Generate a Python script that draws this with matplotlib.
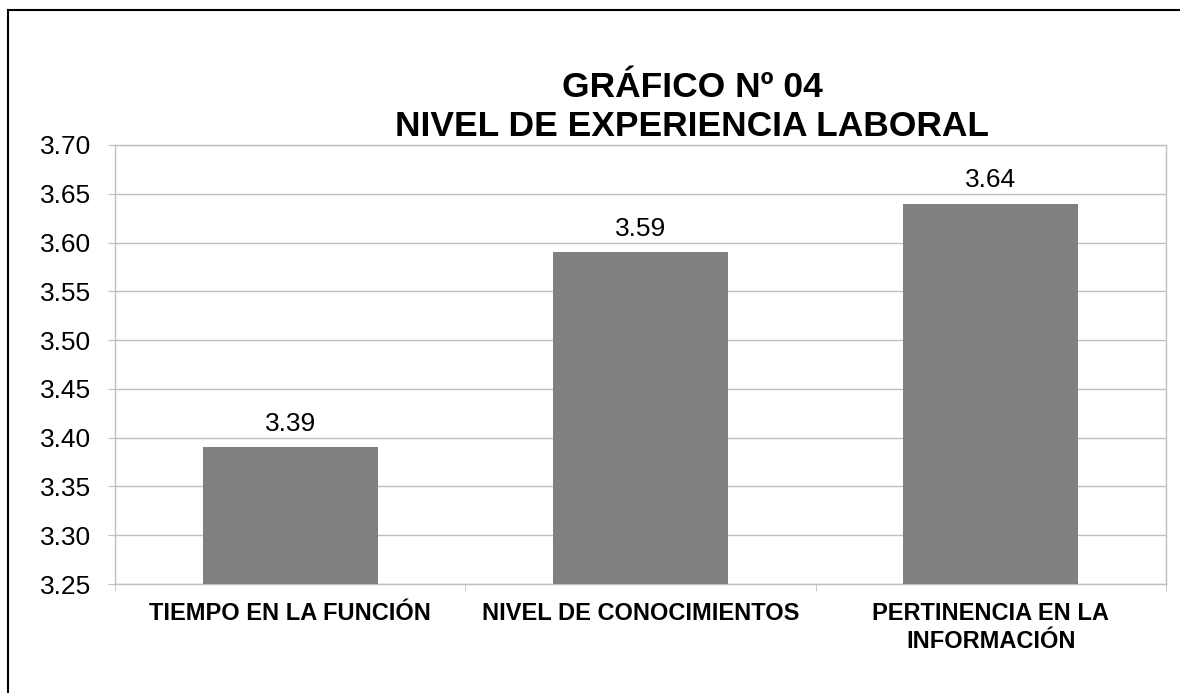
import matplotlib
matplotlib.use("Agg")
import matplotlib.pyplot as plt
from matplotlib.lines import Line2D

categories = ["TIEMPO EN LA FUNCIÓN", "NIVEL DE CONOCIMIENTOS", "PERTINENCIA EN LA\nINFORMACIÓN"]
values = [3.39, 3.59, 3.64]
yticks = [3.25, 3.30, 3.35, 3.40, 3.45, 3.50, 3.55, 3.60, 3.65, 3.70]
title = "GRÁFICO Nº 04\nNIVEL DE EXPERIENCIA LABORAL"

plt.rcParams['font.family'] = ['Liberation Sans', 'DejaVu Sans']

fig = plt.figure(figsize=(11.8, 6.93), dpi=100)
ax = fig.add_axes([115/1180, 1-584/693, (1166-115)/1180, (584-145)/693])

grid_c = "#bfbfbf"
x = range(len(categories))
ax.bar(x, [v - yticks[0] for v in values], bottom=yticks[0], width=0.5, color="#808080", zorder=3)

ax.set_ylim(yticks[0], yticks[-1])
ax.set_xlim(-0.5, len(categories) - 0.5)
ax.set_yticks(yticks)
ax.set_yticklabels([f"{t:.2f}" for t in yticks], fontsize=19)
ax.yaxis.grid(True, color=grid_c, linewidth=1, zorder=0)
ax.tick_params(axis='y', length=5, color=grid_c, pad=12)

ax.set_xticks(list(x))
ax.set_xticklabels(categories, fontsize=17, fontweight='bold', linespacing=1.25)
ax.tick_params(axis='x', which='major', length=0, pad=13)
ax.set_xticks([-0.5, 0.5, 1.5, 2.5], minor=True)
ax.tick_params(axis='x', which='minor', length=5, color=grid_c)

for s in ax.spines.values():
    s.set_color(grid_c)
    s.set_linewidth(1)

for xi, v in zip(x, values):
    ax.annotate(f"{v:.2f}", (xi, v), xytext=(0, 8.5), textcoords='offset points',
                ha='center', va='bottom', fontsize=19)

fig.text(692/1180, 1-107/693, title, ha='center', va='center', fontsize=25.5,
         fontweight='bold', linespacing=1.25)

# outer border (top and left)
fig.add_artist(Line2D([8/1180, 1.0], [1-10/693, 1-10/693], color='black', linewidth=1.5, transform=fig.transFigure))
fig.add_artist(Line2D([8/1180, 8/1180], [0, 1-10/693], color='black', linewidth=1.5, transform=fig.transFigure))

fig.savefig("out.png", dpi=100)
